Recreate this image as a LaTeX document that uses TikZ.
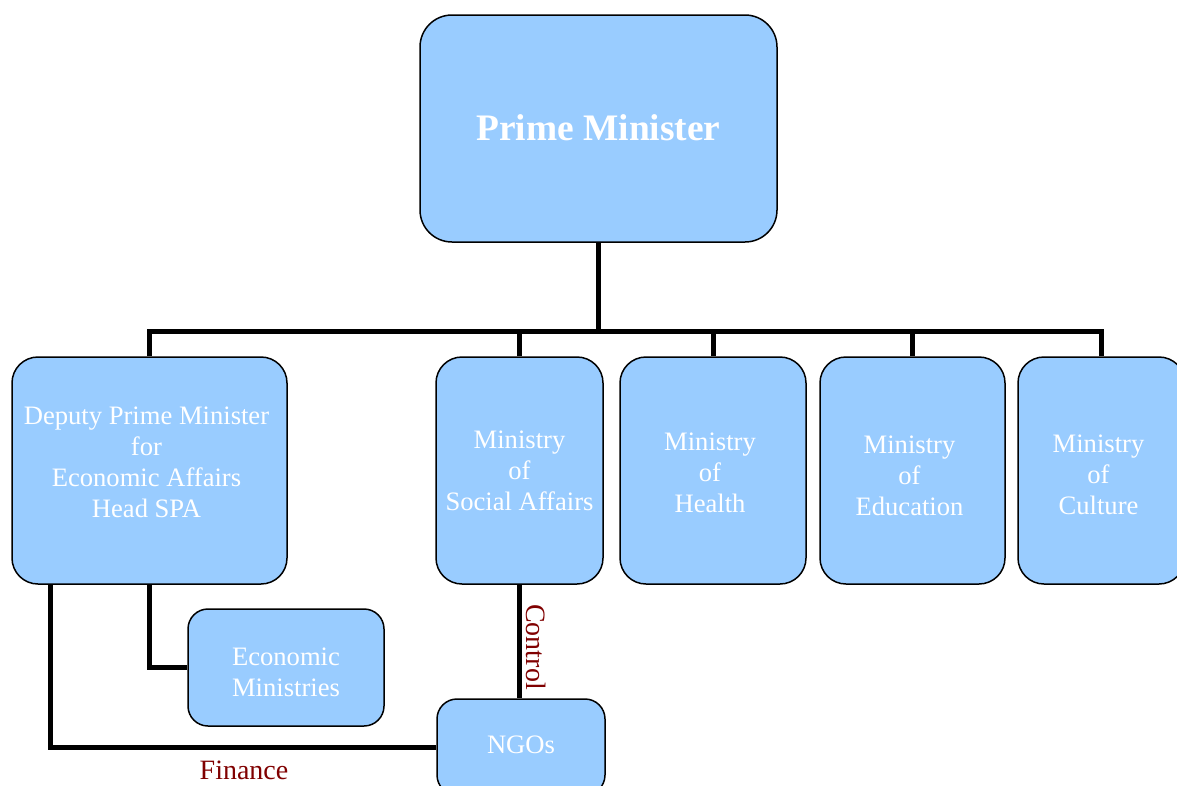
\documentclass[tikz,border=0pt]{standalone}
\usepackage{fontspec}
\setmainfont{Liberation Serif}
\definecolor{boxblue}{HTML}{99CCFF}
\definecolor{labred}{HTML}{800000}
\tikzset{
  box/.style={draw=black, line width=1.5pt, fill=boxblue, rounded corners=26pt,
    inner sep=0pt},
  smallbox/.style={box, rounded corners=20pt},
  txt/.style={inner sep=0pt, align=center, text=white,
    font=\fontsize{26.6}{31}\selectfont},
  conn/.style={draw=black, line width=5pt},
  lab/.style={text=labred, font=\fontsize{28}{31}\selectfont, inner sep=0pt}
}
\begin{document}
\begin{tikzpicture}[x=1pt,y=1pt]
\useasboundingbox (0,0) rectangle (1177,-785);
\clip (0,0) rectangle (1177,-785);
\node[box, minimum width=357pt, minimum height=227pt, rounded corners=32pt] (pm) at (598.5,-128.5) {};
\node[box, minimum width=275pt, minimum height=227pt] (dep) at (149.5,-470.5) {};
\node[box, minimum width=167pt, minimum height=227pt] (soc) at (519.5,-470.5) {};
\node[box, minimum width=186pt, minimum height=227pt] (hea) at (713,-470.5) {};
\node[box, minimum width=185pt, minimum height=227pt] (edu) at (912.5,-470.5) {};
\node[box, minimum width=167pt, minimum height=227pt] (cul) at (1101.5,-470.5) {};
\node[smallbox, minimum width=196pt, minimum height=117pt] (eco) at (286,-667.5) {};
\node[smallbox, minimum width=168pt, minimum height=96pt] (ngo) at (521,-747) {};
% texts
\node[txt, font=\fontsize{37.4}{40}\selectfont\bfseries] (pmt) at ([yshift=1pt]pm.center) {Prime Minister};
\node[txt] (dept) at ([yshift=8pt,xshift=-3pt]dep.center) {Deputy Prime Minister\\for\\Economic Affairs\\Head SPA};
\node[txt] (soct) at (soc.center) {Ministry\\of\\Social Affairs};
\node[txt] (heat) at ([yshift=-2pt,xshift=-3pt]hea.center) {Ministry\\of\\Health};
\node[txt] (edut) at ([yshift=-5pt,xshift=-3pt]edu.center) {Ministry\\of\\Education};
\node[txt] (cult) at ([yshift=-4pt,xshift=-3pt]cul.center) {Ministry\\of\\Culture};
\node[txt] (ecot) at ([yshift=-5pt]eco.center) {Economic\\Ministries};
\node[txt] (ngot) at ([yshift=2pt]ngo.center) {NGOs};
% connectors
\coordinate (bus) at (0,-331);
\draw[conn] (pm.south) -- (pm.south |- bus);
\draw[conn, line cap=rect] (dep.north |- bus) -- (cul.north |- bus);
\draw[conn] (dep.north) -- (dep.north |- bus);
\draw[conn] (soc.north) -- (soc.north |- bus);
\draw[conn] (hea.north) -- (hea.north |- bus);
\draw[conn] (edu.north) -- (edu.north |- bus);
\draw[conn] (cul.north) -- (cul.north |- bus);
\draw[conn] (dep.south) |- (eco.west);
\draw[conn] ([xshift=-99.5pt]dep.south) |- (ngo.west);
\draw[conn] (soc.south) -- (soc.south |- ngo.north);
\node[lab, rotate=-90] (ctl) at (536,-647) {Control};
\node[lab] (fin) at (244,-770) {Finance};
\end{tikzpicture}
\end{document}
